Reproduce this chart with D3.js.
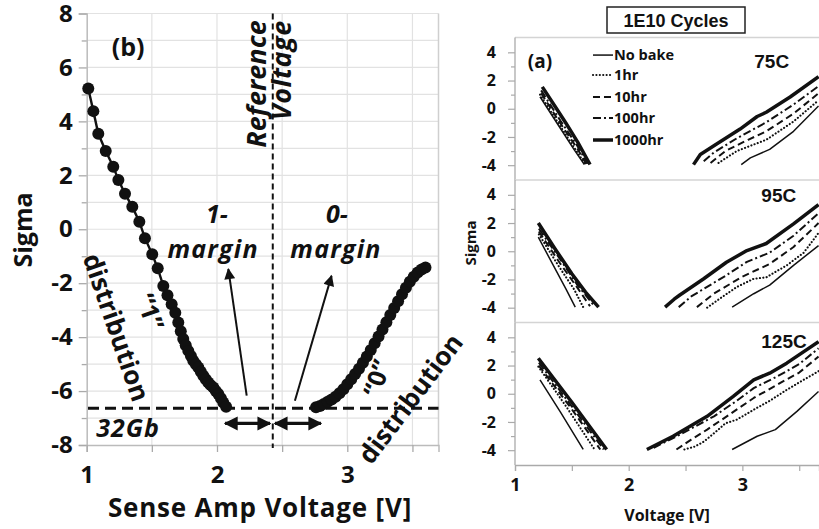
<!DOCTYPE html>
<html><head><meta charset="utf-8">
<script src="https://cdn.jsdelivr.net/npm/d3@7"></script>
<style>
body{margin:0;background:#fff}
svg{display:block}
text{font-family:"Open Sans",sans-serif;font-weight:700;fill:#111}
</style>
</head><body>
<svg id="c" width="819" height="529"></svg>
<script>
// ---------- Panel (b) data ----------
const oneV = [1.012,1.051,1.089,1.146,1.204,1.243,1.294,1.350,1.404,1.447,1.503,1.545,1.588,1.620,1.652,1.680,1.703,1.722,1.741,1.760,1.780,1.800,1.818,1.838,1.857,1.876,1.895,1.914,1.933,1.952,1.972,1.991,2.010,2.030,2.048,2.070];
const oneS = [5.22,4.38,3.54,2.90,2.32,1.83,1.32,0.83,0.28,-0.33,-0.93,-1.45,-2.10,-2.45,-2.78,-3.10,-3.46,-3.78,-4.07,-4.30,-4.51,-4.70,-4.88,-5.01,-5.13,-5.28,-5.43,-5.56,-5.68,-5.78,-5.87,-6.00,-6.11,-6.27,-6.42,-6.58];
const zeroV = [2.76,2.79,2.82,2.85,2.88,2.91,2.94,2.97,3.00,3.03,3.06,3.09,3.12,3.15,3.18,3.21,3.24,3.27,3.30,3.33,3.36,3.39,3.42,3.45,3.48,3.51,3.54,3.57,3.60];
const zeroS = [-6.60,-6.55,-6.48,-6.40,-6.31,-6.21,-6.08,-5.93,-5.75,-5.56,-5.37,-5.17,-4.95,-4.72,-4.48,-4.23,-3.98,-3.72,-3.45,-3.18,-2.92,-2.67,-2.41,-2.17,-1.95,-1.76,-1.60,-1.49,-1.42];
const bXTicks = [1,1.5,2,2.5,3,3.5];
const bXLabels = [1,2,3];
const bYTicks = [-8,-7,-6,-5,-4,-3,-2,-1,0,1,2,3,4,5,6,7,8];
const bYLabels = [-8,-6,-4,-2,0,2,4,6,8];
const refVoltage = 2.428;
const limitSigma = -6.64;
const marginArrows = [[2.228,-6.17,2.087,-1.48],[2.598,-6.36,2.879,-1.73]];
const doubleArrows = [[2.062,2.407],[2.445,2.798]];
const doubleArrowSigma = -7.2;

// ---------- Panel (a) data ----------
const aXTicks = [1,1.5,2,2.5,3,3.5];
const aXLabels = [1,2,3];
const aYTicks = [-4,-3,-2,-1,0,1,2,3,4];
const aYLabels = [-4,-2,0,2,4];
const temps = ["75C","95C","125C"];
const seriesNames = ["No bake","1hr","10hr","100hr","1000hr"];

const t75_noBake_L = [[1.22,0.85],[1.38,-1.15],[1.52,-2.9],[1.61,-3.95]];
const t75_1hr_L    = [[1.22,1.0],[1.38,-1.0],[1.52,-2.75],[1.62,-3.95]];
const t75_10hr_L   = [[1.23,1.1],[1.40,-1.05],[1.55,-2.85],[1.63,-3.95]];
const t75_100hr_L  = [[1.23,1.3],[1.40,-0.85],[1.55,-2.65],[1.64,-3.9]];
const t75_1000hr_L = [[1.24,1.55],[1.35,0.2],[1.45,-1.05],[1.55,-2.35],[1.66,-3.95]];
const t75_noBake_R = [[2.99,-3.96],[3.07,-3.48],[3.24,-2.88],[3.45,-1.6],[3.67,0.2]];
const t75_1hr_R    = [[2.79,-3.84],[2.95,-3.0],[3.21,-2.2],[3.45,-0.9],[3.67,0.6]];
const t75_10hr_R   = [[2.72,-3.84],[2.85,-3.0],[3.05,-2.2],[3.21,-1.6],[3.45,-0.35],[3.67,1.1]];
const t75_100hr_R  = [[2.66,-3.72],[2.75,-3.1],[2.95,-2.1],[3.21,-0.96],[3.45,0.3],[3.67,1.6]];
const t75_1000hr_R = [[2.57,-3.96],[2.63,-3.24],[2.77,-2.52],[2.98,-1.44],[3.13,-0.55],[3.21,-0.25],[3.42,0.83],[3.67,2.27]];

const t95_noBake_L = [[1.205,1.0],[1.33,-0.9],[1.45,-2.7],[1.53,-3.96]];
const t95_1hr_L    = [[1.21,1.2],[1.38,-1.0],[1.52,-2.7],[1.60,-3.96]];
const t95_10hr_L   = [[1.21,1.4],[1.40,-0.9],[1.55,-2.6],[1.66,-3.9]];
const t95_100hr_L  = [[1.21,1.6],[1.40,-0.6],[1.55,-2.4],[1.70,-3.9]];
const t95_1000hr_L = [[1.205,2.0],[1.35,0.2],[1.50,-1.6],[1.62,-2.9],[1.735,-3.96]];
const t95_noBake_R = [[2.91,-3.96],[3.10,-3.01],[3.24,-2.4],[3.45,-1.0],[3.67,0.4]];
const t95_1hr_R    = [[2.69,-4.0],[2.82,-3.25],[2.95,-2.54],[3.10,-1.95],[3.21,-1.85],[3.39,-1.0],[3.54,-0.1],[3.67,1.3]];
const t95_10hr_R   = [[2.60,-3.96],[2.75,-3.0],[3.00,-1.8],[3.24,-0.9],[3.45,0.3],[3.67,2.0]];
const t95_100hr_R  = [[2.44,-3.96],[2.55,-3.2],[2.85,-1.75],[3.04,-0.75],[3.24,-0.1],[3.45,1.1],[3.67,2.7]];
const t95_1000hr_R = [[2.32,-3.96],[2.40,-3.4],[2.45,-3.1],[2.66,-1.95],[2.86,-0.78],[3.04,0.05],[3.21,0.55],[3.45,1.94],[3.67,3.3]];

const t125_noBake_L = [[1.22,0.99],[1.40,-1.3],[1.60,-3.95]];
const t125_1hr_L    = [[1.205,1.93],[1.45,-0.9],[1.70,-3.95]];
const t125_10hr_L   = [[1.21,2.0],[1.50,-1.1],[1.75,-3.95]];
const t125_100hr_L  = [[1.21,2.2],[1.50,-0.9],[1.78,-3.95]];
const t125_1000hr_L = [[1.205,2.52],[1.50,-0.6],[1.806,-3.95]];
const t125_noBake_R = [[2.91,-3.95],[3.13,-3.01],[3.29,-2.54],[3.48,-1.25],[3.67,0.16]];
const t125_1hr_R    = [[2.49,-3.95],[2.58,-3.75],[2.66,-3.4],[2.78,-2.6],[2.85,-2.1],[2.95,-1.84],[3.10,-1.13],[3.24,-0.5],[3.39,0.28],[3.54,0.99],[3.67,1.6]];
const t125_10hr_R   = [[2.42,-3.95],[2.55,-3.25],[2.69,-2.54],[2.90,-1.4],[3.10,-0.3],[3.33,0.75],[3.50,1.5],[3.67,2.63]];
const t125_100hr_R  = [[2.22,-3.83],[2.45,-2.9],[2.75,-1.6],[2.95,-0.5],[3.10,0.4],[3.30,1.2],[3.50,2.1],[3.67,3.22]];
const t125_1000hr_R = [[2.16,-3.95],[2.39,-3.01],[2.69,-1.6],[2.92,-0.19],[3.10,0.99],[3.24,1.46],[3.39,2.17],[3.67,3.69]];

const panelData = [
  [[t75_noBake_L,t75_noBake_R],[t75_1hr_L,t75_1hr_R],[t75_10hr_L,t75_10hr_R],[t75_100hr_L,t75_100hr_R],[t75_1000hr_L,t75_1000hr_R]],
  [[t95_noBake_L,t95_noBake_R],[t95_1hr_L,t95_1hr_R],[t95_10hr_L,t95_10hr_R],[t95_100hr_L,t95_100hr_R],[t95_1000hr_L,t95_1000hr_R]],
  [[t125_noBake_L,t125_noBake_R],[t125_1hr_L,t125_1hr_R],[t125_10hr_L,t125_10hr_R],[t125_100hr_L,t125_100hr_R],[t125_1000hr_L,t125_1000hr_R]]
];

const styles = [
  {w:1.5, dash:null, cap:"butt"},
  {w:2.1, dash:"0.1,3.3", cap:"round"},
  {w:2.0, dash:"7,4", cap:"butt"},
  {w:2.0, dash:"8,3,2,3", cap:"butt"},
  {w:3.5, dash:null, cap:"butt"}
];

const svg = d3.select("#c");
const defs = svg.append("defs");
defs.append("marker").attr("id","ah").attr("viewBox","0 0 10 10").attr("refX",9).attr("refY",5)
  .attr("markerWidth",13).attr("markerHeight",11).attr("markerUnits","userSpaceOnUse").attr("orient","auto-start-reverse")
  .append("path").attr("d","M0,0L10,5L0,10Z").attr("fill","#111");
defs.append("marker").attr("id","ah2").attr("viewBox","0 0 10 10").attr("refX",9).attr("refY",5)
  .attr("markerWidth",14).attr("markerHeight",16).attr("markerUnits","userSpaceOnUse").attr("orient","auto-start-reverse")
  .append("path").attr("d","M0,0L10,5L0,10Z").attr("fill","#111");

// ================= Panel (b) =================
const xB = d3.scaleLinear().domain([1,3.7]).range([86.7,438.5]);
const yB = d3.scaleLinear().domain([-8,8]).range([445,13.5]);
const gB = svg.append("g");

// grid
gB.selectAll(".gx").data(bXTicks.filter(d=>d>1)).enter().append("line")
  .attr("x1",d=>xB(d)).attr("x2",d=>xB(d)).attr("y1",yB(-8)).attr("y2",yB(8))
  .attr("stroke","#e2e2e2").attr("stroke-width",1.2);
gB.selectAll(".gy").data(bYTicks.filter(d=>d>-8)).enter().append("line")
  .attr("x1",xB(1)).attr("x2",xB(3.7)).attr("y1",d=>yB(d)).attr("y2",d=>yB(d))
  .attr("stroke","#e2e2e2").attr("stroke-width",1.2);
gB.append("line").attr("x1",xB(3.7)).attr("x2",xB(3.7)).attr("y1",yB(-8)).attr("y2",yB(8)).attr("stroke","#cfcfcf").attr("stroke-width",1.5);

// axes
const axL = gB.append("g").attr("transform",`translate(${xB(1)},0)`)
  .call(d3.axisLeft(yB).tickValues(bYTicks).tickSize(8).tickPadding(6).tickFormat(d=>bYLabels.includes(d)?String(d):""));
axL.select(".domain").attr("stroke","#bbb").attr("stroke-width",1.5);
axL.selectAll(".tick line").attr("stroke","#aaa").attr("stroke-width",1.3).attr("x2",d=>bYLabels.includes(d)?-8:-5);
axL.selectAll(".tick text").style("font-size","24px").style("font-family","Open Sans").style("font-weight","700").attr("fill","#111");

const axBt = gB.append("g").attr("transform",`translate(0,${yB(-8)})`)
  .call(d3.axisBottom(xB).tickValues(bXTicks).tickSize(7).tickPadding(14).tickFormat(d=>bXLabels.includes(d)?String(d):""));
axBt.select(".domain").attr("stroke","#bbb").attr("stroke-width",1.5);
axBt.selectAll(".tick line").attr("stroke","#aaa").attr("stroke-width",1.3);
axBt.selectAll(".tick text").style("font-size","24px").style("font-family","Open Sans").style("font-weight","700").attr("fill","#111");

// reference lines
gB.append("line").attr("x1",xB(refVoltage)).attr("x2",xB(refVoltage)).attr("y1",yB(8)).attr("y2",yB(-8)+3)
  .attr("stroke","#111").attr("stroke-width",2).attr("stroke-dasharray","6,4");
gB.append("line").attr("x1",xB(1.01)).attr("x2",xB(3.7)).attr("y1",yB(limitSigma)).attr("y2",yB(limitSigma))
  .attr("stroke","#111").attr("stroke-width",3).attr("stroke-dasharray","11,6");

// distributions
const lineB = d3.line().x(d=>xB(d[0])).y(d=>yB(d[1]));
const onePts = oneV.map((v,i)=>[v,oneS[i]]);
const zeroPts = zeroV.map((v,i)=>[v,zeroS[i]]);
[onePts,zeroPts].forEach(pts=>{
  gB.append("path").attr("d",lineB(pts)).attr("fill","none").attr("stroke","#111").attr("stroke-width",2.4);
  gB.selectAll(null).data(pts).enter().append("circle")
    .attr("cx",d=>xB(d[0])).attr("cy",d=>yB(d[1])).attr("r",6).attr("fill","#111");
});

// arrows
marginArrows.forEach(a=>{
  gB.append("line").attr("x1",xB(a[0])).attr("y1",yB(a[1])).attr("x2",xB(a[2])).attr("y2",yB(a[3]))
    .attr("stroke","#111").attr("stroke-width",2).attr("marker-end","url(#ah)");
});
doubleArrows.forEach(a=>{
  gB.append("line").attr("x1",xB(a[0])).attr("y1",yB(doubleArrowSigma)).attr("x2",xB(a[1])).attr("y2",yB(doubleArrowSigma))
    .attr("stroke","#111").attr("stroke-width",3.2).attr("marker-end","url(#ah2)").attr("marker-start","url(#ah2)");
});

// annotations
function txt(g,x,y,s,o){
  const t=g.append("text").attr("x",x).attr("y",y).text(s);
  o=o||{};
  t.style("font-size",(o.size||24)+"px");
  if(o.italic) t.style("font-style","italic");
  if(o.anchor) t.attr("text-anchor",o.anchor);
  if(o.rot!==undefined) t.attr("transform",`rotate(${o.rot},${x},${y})`);
  if(o.family) t.style("font-family",o.family);
  if(o.baseline) t.attr("dominant-baseline",o.baseline);
  if(o.ls) t.style("letter-spacing",o.ls+"px");
  return t;
}
txt(gB,xB(1.318),yB(6.43),"(b)",{anchor:"middle",size:25});
txt(gB,xB(2.376),yB(7.75),"Reference",{anchor:"end",italic:true,size:27,rot:-90});
txt(gB,xB(2.568),yB(7.75),"Voltage",{anchor:"end",italic:true,size:27,rot:-90,ls:0.5});
txt(gB,xB(2.0),yB(0.22),"1-",{anchor:"middle",italic:true,size:25});
txt(gB,xB(1.97),yB(-1.06),"margin",{anchor:"middle",italic:true,size:25,ls:1.2});
txt(gB,xB(2.92),yB(0.22),"0-",{anchor:"middle",italic:true,size:25});
txt(gB,xB(2.913),yB(-1.06),"margin",{anchor:"middle",italic:true,size:25,ls:1.2});
txt(gB,xB(1.318),yB(-7.70),"32Gb",{anchor:"middle",italic:true,size:25,ls:1});
txt(gB,xB(1.233),yB(-3.63),"distribution",{anchor:"middle",size:26,rot:71,baseline:"central"});
txt(gB,xB(1.494),yB(-3.05),"\u201C1\u201D",{anchor:"middle",size:25,rot:71,baseline:"central"});
txt(gB,xB(3.22),yB(-5.51),"\u201C0\u201D",{anchor:"middle",size:25,rot:-71,baseline:"central"});
txt(gB,xB(3.48),yB(-6.26),"distribution",{anchor:"middle",size:26,rot:-53,baseline:"central"});

// axis titles
txt(svg,32,230,"Sigma",{anchor:"middle",size:25,rot:-90});
txt(svg,260,517,"Sense Amp Voltage [V]",{anchor:"middle",size:26,ls:0.8});

// ================= Panel (a) =================
const xA = d3.scaleLinear().domain([1,3.674]).range([515,819]);
const panelTops = [37.5,180,322.5];
const panelH = 142.5;
defs.append("clipPath").attr("id","clipA").append("rect").attr("x",515).attr("y",30).attr("width",304).attr("height",440);

const gA = svg.append("g");
panelTops.forEach((top,pi)=>{
  const yA = d3.scaleLinear().domain([-5.05,5.05]).range([top+panelH,top]);
  const g = gA.append("g");
  g.append("line").attr("x1",515).attr("x2",819).attr("y1",top).attr("y2",top).attr("stroke","#d4d4d4").attr("stroke-width",1.3);
  const ax = g.append("g").attr("transform","translate(515,0)")
    .call(d3.axisLeft(yA).tickValues(aYTicks).tickSize(7).tickPadding(12).tickFormat(d=>aYLabels.includes(d)?String(d):""));
  ax.select(".domain").attr("d",`M0,${top}V${top+panelH}`).attr("stroke","#aaa").attr("stroke-width",1.3);
  ax.selectAll(".tick line").attr("stroke","#aaa").attr("stroke-width",1.2).attr("x2",d=>aYLabels.includes(d)?-7:-4);
  ax.selectAll(".tick text").style("font-size","16px").style("font-family","Open Sans").style("font-weight","700").attr("fill","#111");

  const lineA = d3.line().x(d=>xA(d[0])).y(d=>yA(d[1]));
  const lg = g.append("g").attr("clip-path","url(#clipA)");
  panelData[pi].forEach((branches,si)=>{
    const st = styles[si];
    branches.forEach(br=>{
      const p = lg.append("path").attr("d",lineA(br)).attr("fill","none").attr("stroke","#111")
        .attr("stroke-width",st.w).attr("stroke-linecap",st.cap).attr("stroke-linejoin","round");
      if(st.dash) p.attr("stroke-dasharray",st.dash);
    });
  });

  const tempPos = [[3.258,2.89],[3.32,3.51],[3.366,3.24]];
  txt(g,xA(tempPos[pi][0]),yA(tempPos[pi][1]),temps[pi],{anchor:"middle",size:19,family:"Liberation Sans"});

  if(pi===0){
    txt(g,xA(1.22),yA(2.89),"(a)",{anchor:"middle",size:19});
    const legY = [3.45,2.04,0.48,-1.01,-2.57];
    seriesNames.forEach((nm,si)=>{
      const st = styles[si];
      const ly = yA(legY[si])-5;
      const l = g.append("line").attr("x1",xA(1.686)).attr("x2",xA(1.862)).attr("y1",ly).attr("y2",ly)
        .attr("stroke","#111").attr("stroke-width",st.w).attr("stroke-linecap",st.cap);
      if(st.dash) l.attr("stroke-dasharray",st.dash);
      txt(g,xA(1.871),yA(legY[si]),nm,{size:14.5});
    });
  }
  if(pi===2){
    const axX = g.append("g").attr("transform",`translate(0,${top+panelH})`)
      .call(d3.axisBottom(xA).tickValues(aXTicks).tickSize(6).tickPadding(7).tickFormat(d=>aXLabels.includes(d)?String(d):""));
    axX.select(".domain").attr("stroke","#aaa").attr("stroke-width",1.3);
    axX.selectAll(".tick line").attr("stroke","#aaa").attr("stroke-width",1.2);
    axX.selectAll(".tick text").style("font-size","18px").style("font-family","Open Sans").style("font-weight","700").attr("fill","#111");
  }
});

// title box
svg.append("rect").attr("x",607).attr("y",7).attr("width",138).attr("height",26).attr("fill","#fff").attr("stroke","#222").attr("stroke-width",1.5);
txt(svg,676,27,"1E10 Cycles",{anchor:"middle",size:18,family:"Liberation Sans"});
txt(svg,476,243,"Sigma",{anchor:"middle",size:15,rot:-90});
txt(svg,667,521,"Voltage [V]",{anchor:"middle",size:16});
</script>
</body></html>
